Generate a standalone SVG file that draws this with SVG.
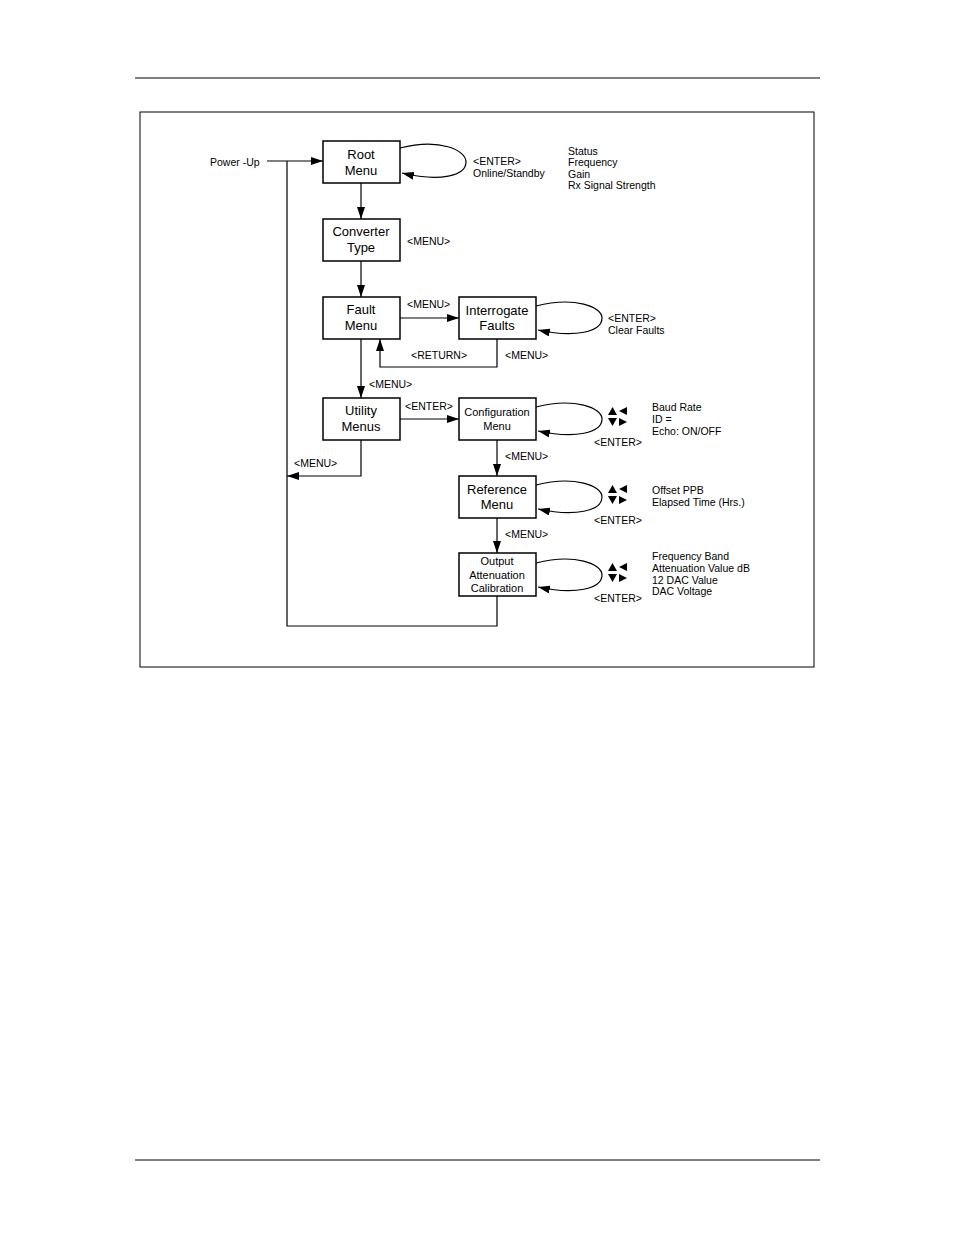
<svg xmlns="http://www.w3.org/2000/svg" width="954" height="1235" viewBox="0 0 954 1235">
<style>
.b{fill:#fff;stroke:#000;stroke-width:1.5}
.l{fill:none;stroke:#000;stroke-width:1.2}
.t{font-family:"Liberation Sans",Arial,sans-serif;font-size:13px;text-anchor:middle}
.s{font-family:"Liberation Sans",Arial,sans-serif;font-size:10.5px}
.sm{font-family:"Liberation Sans",Arial,sans-serif;font-size:11px;text-anchor:middle}
</style>
<defs>
<marker id="a" markerWidth="12" markerHeight="8" refX="12" refY="4" orient="auto" markerUnits="userSpaceOnUse"><path d="M0,0 L12,4 L0,8 Z"/></marker>
<g id="sym"><polygon points="0,8 4.5,0 9,8"/><polygon points="11,4 19,0 19,8"/><polygon points="0,11 9,11 4.5,19"/><polygon points="11,11 19,15 11,19"/></g>
</defs>
<rect width="954" height="1235" fill="#fff"/>
<line x1="135" y1="78" x2="820" y2="78" stroke="#000"/>
<line x1="135" y1="1160" x2="820" y2="1160" stroke="#000"/>
<rect x="140" y="112" width="674" height="555" fill="none" stroke="#000"/>
<g id="connectors">
<path class="l" d="M267,161 H323" marker-end="url(#a)"/>
<path class="l" d="M287,161 V626 H497 V596"/>
<path class="l" d="M361,183 V219" marker-end="url(#a)"/>
<path class="l" d="M361,261 V297" marker-end="url(#a)"/>
<path class="l" d="M400,318 H459" marker-end="url(#a)"/>
<path class="l" d="M497,339 V367 H380 V339" marker-end="url(#a)"/>
<path class="l" d="M361,339 V398" marker-end="url(#a)"/>
<path class="l" d="M400,419 H459" marker-end="url(#a)"/>
<path class="l" d="M361,440 V476 H287" marker-end="url(#a)"/>
<path class="l" d="M497,440 V476" marker-end="url(#a)"/>
<path class="l" d="M497,518 V553" marker-end="url(#a)"/>
<path class="l" d="M400,148 C440,138 466,150 466,162 C466,176 440,182 402,173" marker-end="url(#a)"/>
<path class="l" d="M536,306 C575,296 602,307 602,318 C602,332 575,338 538,330" marker-end="url(#a)"/>
<path class="l" d="M536,407 C575,397 602,408 602,419 C602,433 575,439 538,431" marker-end="url(#a)"/>
<path class="l" d="M536,485 C575,475 602,486 602,497 C602,511 575,517 538,509" marker-end="url(#a)"/>
<path class="l" d="M536,563 C575,553 602,564 602,575 C602,589 575,595 538,587" marker-end="url(#a)"/>
</g>
<g id="root"><rect class="b" x="323" y="141" width="77" height="42"/><text class="t" x="361" y="159">Root</text><text class="t" x="361" y="175">Menu</text></g>
<g id="conv"><rect class="b" x="323" y="219" width="77" height="42"/><text class="t" x="361" y="236">Converter</text><text class="t" x="361" y="252">Type</text></g>
<g id="fault"><rect class="b" x="323" y="297" width="77" height="42"/><text class="t" x="361" y="314">Fault</text><text class="t" x="361" y="330">Menu</text></g>
<g id="interr"><rect class="b" x="459" y="297" width="77" height="42"/><text class="t" x="497" y="315">Interrogate</text><text class="t" x="497" y="330">Faults</text></g>
<g id="util"><rect class="b" x="323" y="398" width="77" height="42"/><text class="t" x="361" y="415">Utility</text><text class="t" x="361" y="431">Menus</text></g>
<g id="config"><rect class="b" x="459" y="398" width="77" height="42"/><text class="sm" x="497" y="416">Configuration</text><text class="sm" x="497" y="430">Menu</text></g>
<g id="ref"><rect class="b" x="459" y="476" width="77" height="42"/><text class="t" x="497" y="494">Reference</text><text class="t" x="497" y="509">Menu</text></g>
<g id="out"><rect class="b" x="459" y="553" width="77" height="43"/><text class="sm" x="497" y="565">Output</text><text class="sm" x="497" y="579">Attenuation</text><text class="sm" x="497" y="592">Calibration</text></g>
<g class="s">
<text x="210" y="166">Power -Up</text>
<text x="473" y="165">&lt;ENTER&gt;</text><text x="473" y="177">Online/Standby</text>
<text x="568" y="155">Status</text><text x="568" y="166">Frequency</text><text x="568" y="178">Gain</text><text x="568" y="189">Rx Signal Strength</text>
<text x="407" y="245">&lt;MENU&gt;</text>
<text x="407" y="308">&lt;MENU&gt;</text>
<text x="608" y="322">&lt;ENTER&gt;</text><text x="608" y="334">Clear Faults</text>
<text x="411" y="359">&lt;RETURN&gt;</text><text x="505" y="359">&lt;MENU&gt;</text>
<text x="369" y="388">&lt;MENU&gt;</text>
<text x="405" y="410">&lt;ENTER&gt;</text>
<text x="294" y="467">&lt;MENU&gt;</text>
<text x="505" y="460">&lt;MENU&gt;</text>
<text x="505" y="538">&lt;MENU&gt;</text>
<text x="652" y="411">Baud Rate</text><text x="652" y="423">ID =</text><text x="652" y="435">Echo: ON/OFF</text>
<text x="594" y="446">&lt;ENTER&gt;</text>
<text x="652" y="494">Offset PPB</text><text x="652" y="506">Elapsed Time (Hrs.)</text>
<text x="594" y="524">&lt;ENTER&gt;</text>
<text x="652" y="560">Frequency Band</text><text x="652" y="572">Attenuation Value dB</text><text x="652" y="584">12 DAC Value</text><text x="652" y="595">DAC Voltage</text>
<text x="594" y="602">&lt;ENTER&gt;</text>
</g>
<use href="#sym" x="608" y="407"/>
<use href="#sym" x="608" y="485"/>
<use href="#sym" x="608" y="563"/>
</svg>
